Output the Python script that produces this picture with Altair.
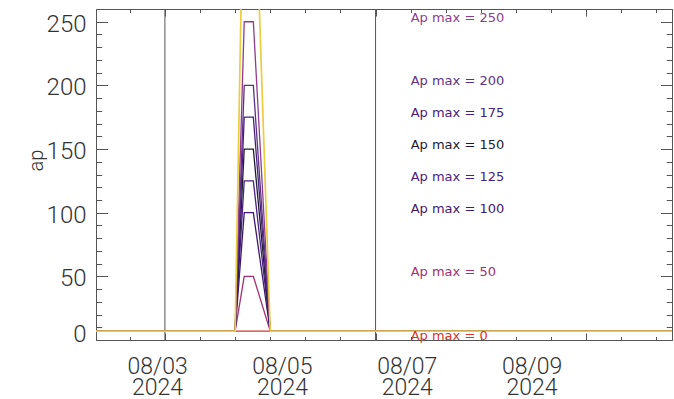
import altair as alt
import pandas as pd

# ---- values -------------------------------------------------------------
x_start = "2024-08-02T00:30"
x_end = "2024-08-11T06:00"

# sample times of every storm profile
profile_times = ["2024-08-02T00:30", "2024-08-04T06:00", "2024-08-04T09:30",
                 "2024-08-04T13:00", "2024-08-04T19:30", "2024-08-11T06:00"]

ap_max = [0, 50, 100, 125, 150, 175, 200, 250, 400]
ap_profiles = [
    [7, 7, 7, 7, 7, 7],
    [7, 7, 50, 50, 7, 7],
    [7, 7, 100, 100, 7, 7],
    [7, 7, 125, 125, 7, 7],
    [7, 7, 150, 150, 7, 7],
    [7, 7, 175, 175, 7, 7],
    [7, 7, 200, 200, 7, 7],
    [7, 7, 250, 250, 7, 7],
    [7, 7, 400, 400, 7, 7],
]
series_colors = ["#d9352a", "#a33070", "#3f1870", "#4a2282", "#1b1b33",
                 "#48207c", "#5a3285", "#8e3c90", "#eccc40"]

labelled_max = [0, 50, 100, 125, 150, 175, 200, 250]
label_time = "2024-08-07T01:30"

date_label_times = ["2024-08-03T00:00", "2024-08-05T00:00",
                    "2024-08-07T00:00", "2024-08-09T00:00"]
x_minor_ticks = ["2024-08-02T13:30", "2024-08-03T03:00", "2024-08-03T16:30",
                 "2024-08-04T06:00", "2024-08-04T19:30", "2024-08-05T09:00",
                 "2024-08-05T22:30", "2024-08-06T12:00", "2024-08-07T01:30",
                 "2024-08-07T15:00", "2024-08-08T04:30", "2024-08-08T18:00",
                 "2024-08-09T07:30", "2024-08-09T21:00", "2024-08-10T10:30",
                 "2024-08-11T00:00"]
x_major_ticks = ["2024-08-03T03:00", "2024-08-06T12:00", "2024-08-09T21:00"]
marker_times = ["2024-08-03T03:00", "2024-08-06T12:00"]

y_labels = [0, 50, 100, 150, 200, 250]
y_minor_ticks = [0, 10, 20, 30, 40, 50, 60, 70, 80, 90, 100, 110, 120, 130,
                 140, 150, 160, 170, 180, 190, 200, 210, 220, 230, 240, 250, 260]
y_major_ticks = [0, 50, 100, 150, 200, 250]

# ---- layout -------------------------------------------------------------
PLOT_W, PLOT_H = 576, 331
AXIS_GRAY = "#555555"
TEXT_GRAY = "#333333"
FONT = "Roboto"


def dt(stamp):
    ts = pd.Timestamp(stamp)
    return alt.DateTime(year=ts.year, month=ts.month, date=ts.day,
                        hours=ts.hour, minutes=ts.minute)


keys = [f"{v:03d}" for v in ap_max]

rows = []
for key, profile in zip(keys, ap_profiles):
    for t, v in zip(profile_times, profile):
        rows.append({"key": key, "t": t, "ap": v})
lines_df = pd.DataFrame(rows)

labels_df = pd.DataFrame({
    "key": [f"{v:03d}" for v in labelled_max],
    "t": [label_time] * len(labelled_max),
    "ap": labelled_max,
    "label": [f"Ap max = {v}" for v in labelled_max],
})
markers_df = pd.DataFrame({"t": marker_times})
anchor_df = pd.DataFrame({"t": [x_start], "ap": [0]})

x_scale = alt.Scale(domain=[dt(x_start), dt(x_end)])
y_scale = alt.Scale(domain=[0, 260], nice=False, zero=False)
color_scale = alt.Scale(domain=keys, range=series_colors)


def inward_ticks(x_orient, y_orient, x_vals, y_vals, x_len, y_len):
    # axes pushed onto the opposite edge so their ticks point into the plot
    return alt.Chart(anchor_df).mark_point(opacity=0).encode(
        x=alt.X("t:T", scale=x_scale, axis=alt.Axis(
            orient=x_orient, offset=-PLOT_H, values=[dt(s) for s in x_vals],
            tickSize=x_len, tickColor=AXIS_GRAY, tickWidth=1, labels=False,
            domain=False, grid=False, title=None)),
        y=alt.Y("ap:Q", scale=y_scale, axis=alt.Axis(
            orient=y_orient, offset=-PLOT_W, values=y_vals,
            tickSize=y_len, tickColor=AXIS_GRAY, tickWidth=1, labels=False,
            domain=False, grid=False, title=None)),
    )


ticks_minor_a = inward_ticks("top", "right", x_minor_ticks, y_minor_ticks, 3.5, 5.75)
ticks_minor_b = inward_ticks("bottom", "left", x_minor_ticks, y_minor_ticks, 3.5, 5.75)
ticks_major_a = inward_ticks("top", "right", x_major_ticks, y_major_ticks, 7, 11.5)
ticks_major_b = inward_ticks("bottom", "left", x_major_ticks, y_major_ticks, 7, 11.5)

markers = alt.Chart(markers_df).mark_rule(color=AXIS_GRAY, strokeWidth=1).encode(
    x=alt.X("t:T", scale=x_scale, axis=None)
)

lines = alt.Chart(lines_df).mark_line(clip=True).encode(
    x=alt.X("t:T", scale=x_scale, axis=alt.Axis(
        orient="bottom", values=[dt(s) for s in date_label_times],
        ticks=False, domain=False, grid=False, title=None,
        labelExpr="[timeFormat(datum.value, '%m/%d'), timeFormat(datum.value, '%Y')]",
        labelFont=FONT, labelFontSize=23, labelFontWeight=300,
        labelColor=TEXT_GRAY, labelPadding=15, labelLineHeight=21.5,
        labelBaseline="top", labelAlign="center", labelFlush=False,
        labelOverlap=False)),
    y=alt.Y("ap:Q", scale=y_scale, axis=alt.Axis(
        orient="left", values=y_labels, ticks=False, domain=False, grid=False,
        labelFont=FONT, labelFontSize=24, labelFontWeight=300,
        labelColor=TEXT_GRAY, labelPadding=10, labelFlush=False,
        labelOverlap=False, labelBaseline="middle",
        labelOffset={"condition": {"test": "datum.value == 0", "value": -6},
                     "value": 2.5},
        title="ap", titleFont=FONT, titleFontSize=20, titleFontWeight=300,
        titleColor=TEXT_GRAY, titleX=-60, titleY=151, titleAngle=270,
        titleBaseline="middle", titleAlign="center")),
    color=alt.Color("key:N", scale=color_scale, legend=None),
    strokeWidth=alt.condition(alt.datum.key == "400", alt.value(1.7), alt.value(1.3)),
)

labels = alt.Chart(labels_df).mark_text(
    align="left", baseline="alphabetic", font="DejaVu Sans", fontSize=13
).encode(
    x=alt.X("t:T", scale=x_scale, axis=None),
    y=alt.Y("ap:Q", scale=y_scale, axis=None),
    text="label:N",
    color=alt.Color("key:N", scale=color_scale, legend=None),
)

chart = alt.layer(
    ticks_minor_a, ticks_minor_b, ticks_major_a, ticks_major_b,
    markers, lines, labels
).resolve_axis(
    x="independent", y="independent"
).properties(
    width=PLOT_W, height=PLOT_H,
    autosize=alt.AutoSizeParams(type="none"),
    padding={"left": 96, "top": 9, "right": 2, "bottom": 59},
    background="white",
).configure_view(
    stroke=AXIS_GRAY, strokeWidth=1
)

chart.save("out.html", embed_options={"renderer": "svg", "actions": False})
